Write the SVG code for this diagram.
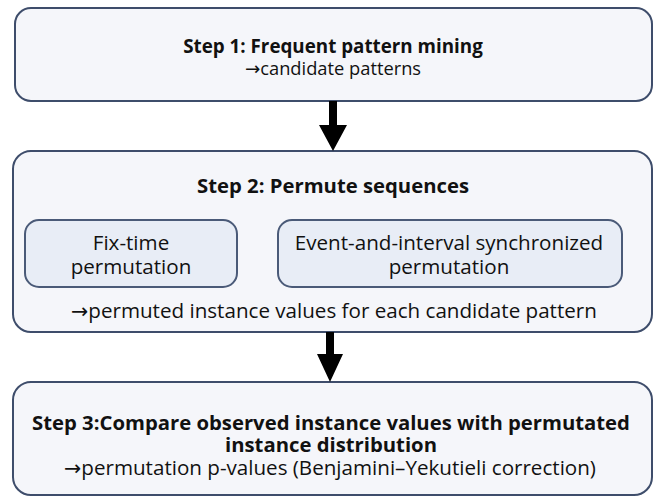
<svg xmlns="http://www.w3.org/2000/svg" width="654" height="497" viewBox="0 0 654 497">
<style>
.box{fill:#f5f6fa;stroke:#3e4d6b;stroke-width:2}
.inner{fill:#e8edf6;stroke:#4a5a78;stroke-width:2}
text{font-family:"Open Sans","Noto Sans","DejaVu Sans",sans-serif;font-size:20.6px;fill:#111;text-anchor:middle}
.b{font-weight:bold;font-size:20.3px}
.s1{font-size:18.3px}
.s1b{font-weight:bold;font-size:18.8px}
.arrow{fill:#000}
</style>
<rect width="654" height="497" fill="#fff"/>
<g id="step1">
<rect class="box" x="15" y="8" width="637" height="93" rx="16"/>
<text x="333" y="53"><tspan class="s1b" x="333" y="53">Step 1: Frequent pattern mining</tspan><tspan class="s1" x="333" y="75">→candidate patterns</tspan></text>
</g>
<g id="step2">
<rect class="box" x="13" y="151" width="639" height="181" rx="18"/>
<text class="b" x="333" y="193">Step 2: Permute sequences</text>
<text x="334" y="318">→permuted instance values for each candidate pattern</text>
</g>
<g id="fixtime">
<rect class="inner" x="25" y="220" width="212" height="67" rx="14"/>
<text x="131" y="250"><tspan x="131" y="250">Fix-time</tspan><tspan x="131" y="274">permutation</tspan></text>
</g>
<g id="eventinterval">
<rect class="inner" x="278" y="220" width="344" height="67" rx="14"/>
<text x="449" y="250"><tspan x="449" y="250">Event-and-interval synchronized</tspan><tspan x="449" y="274">permutation</tspan></text>
</g>
<g id="step3">
<rect class="box" x="13" y="382" width="639" height="113" rx="18"/>
<text x="331" y="430"><tspan class="b" x="331" y="430">Step 3:Compare observed instance values with permutated</tspan><tspan class="b" x="331" y="452">instance distribution</tspan><tspan x="330" y="475">→permutation p-values (Benjamini–Yekutieli correction)</tspan></text>
</g>
<g id="connectors">
<polygon class="arrow" points="329,101 337,101 337,125 347,125 333,151 319,125 329,125"/>
<polygon class="arrow" points="326,332 334,332 334,354 343,354 330,382 317,354 326,354"/>
</g>
</svg>
